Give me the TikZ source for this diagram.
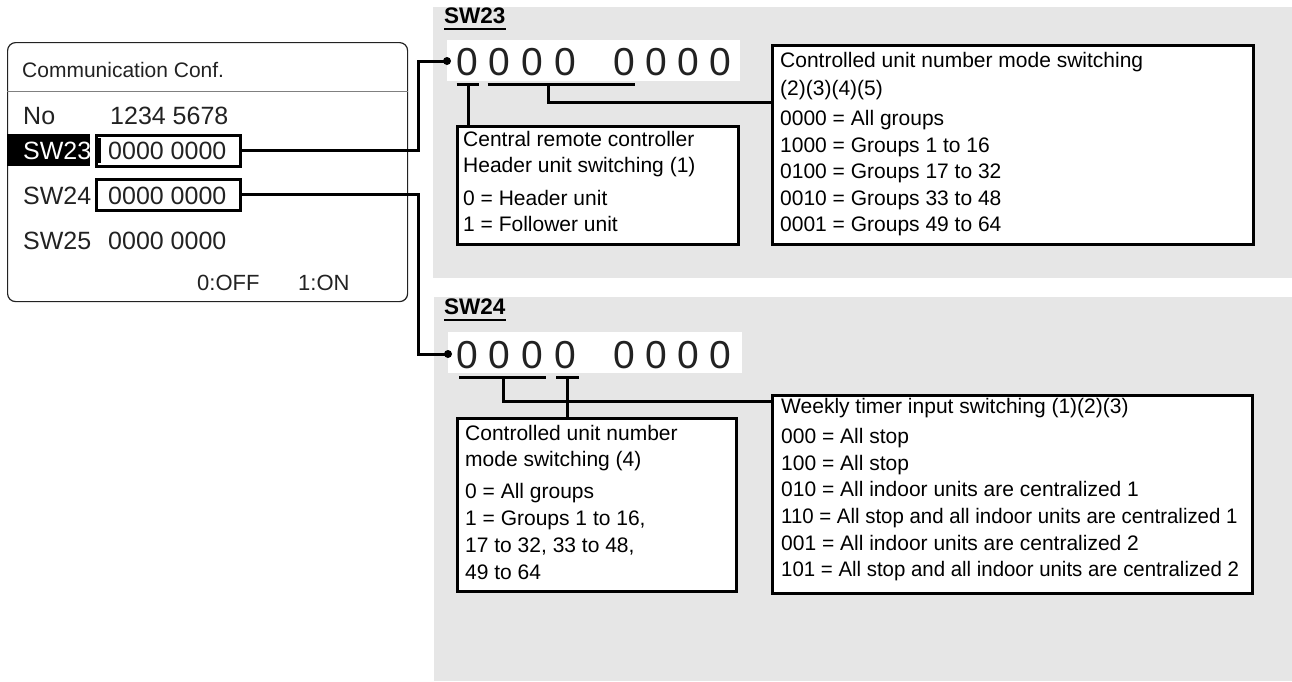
\documentclass[tikz,border=0pt]{standalone}
\usepackage{fontspec}
\setmainfont{Liberation Sans}
\usepackage{graphicx}
\usetikzlibrary{calc}
\definecolor{panelgrey}{RGB}{230,230,230}
\definecolor{inkgrey}{RGB}{34,34,34}
\tikzset{
  txt/.style={anchor=base west, inner sep=0pt, font=\fontsize{21}{25}\selectfont},
  ptxt/.style={anchor=base west, inner sep=0pt, font=\fontsize{25}{30}\selectfont, text=inkgrey},
  bigdigit/.style={anchor=base, inner sep=0pt, font=\fontsize{39}{44}\selectfont, text=inkgrey},
  infobox/.style={draw, line width=3pt, fill=white, inner sep=0pt, anchor=north west},
  valbox/.style={draw, line width=2.6pt, inner sep=0pt, anchor=north west, minimum width=144, minimum height=31},
  numbox/.style={fill=white, inner sep=0pt, anchor=north west},
  conn/.style={line width=3pt},
  uline/.style={line width=3pt},
  jdot/.style={circle, fill=black, inner sep=0pt, minimum size=8pt},
  swlabel/.style={anchor=base west, inner sep=0pt, font=\bfseries\fontsize{22.5}{26}\selectfont},
}
\begin{document}
\begin{tikzpicture}[x=1pt,y=-1pt]
\useasboundingbox (0,0) rectangle (1292,681);
% grey backgrounds
\fill[panelgrey] (433,7) rectangle (1292,278);
\fill[panelgrey] (434,297) rectangle (1292,681);

% ---------- left panel ----------
\node[draw=inkgrey, line width=1.2pt, rounded corners=8pt, minimum width=400, minimum height=259, anchor=north west, inner sep=0pt] (panel) at (7,42) {};
\draw[gray, line width=1pt] (panel.west |- 0,91.5) -- (panel.east |- 0,91.5);
\node[ptxt, font=\fontsize{21}{26}\selectfont] (hdr) at (22,77) {Communication Conf.};
\node[ptxt] (lno) at (23,124) {No};
\node[ptxt] (vno) at (110,124) {1234 5678};
\fill[black] (7,134) rectangle (90,166);
\node[ptxt, text=white] (l23) at (23,159) {SW23};
\fill[black] (98,138) rectangle (101,163);
\node[ptxt] (v23) at (108,159) {0000 0000};
\node[ptxt] (l24) at (23,204) {SW24};
\node[ptxt] (v24) at (108,204) {0000 0000};
\node[ptxt] (l25) at (23,249) {SW25};
\node[ptxt] (v25) at (108,249) {0000 0000};
\node[ptxt, font=\fontsize{22}{26}\selectfont] (off) at (197,290) {0:OFF};
\node[ptxt, font=\fontsize{22}{26}\selectfont] (on) at (298,290) {1:ON};
\node[valbox] (p23) at (95,134) {};
\node[valbox] (p24) at (95,178) {};

% ---------- SW23 ----------
\node[swlabel] (sw23) at (444,23) {SW23};
\draw[line width=2pt] ([yshift=-6pt]sw23.base west) -- ([yshift=-6pt]sw23.base east);
\node[numbox, minimum width=293, minimum height=41] (n23) at (447,40) {};
\foreach \x [count=\i] in {467,499.7,532.3,565,624,656,688,720}
  \node[bigdigit] (a\i) at (\x,75.5) {0};
\coordinate (ua1) at (456.5,84); \coordinate (ub1) at (478.5,84);
\coordinate (ua2) at (487.5,84); \coordinate (ub2) at (634.5,84);
\draw[uline] (ua1) -- (ub1);
\draw[uline] (ua2) -- (ub2);

\node[infobox, minimum width=281, minimum height=118] (b1) at (455.5,125) {};
\node[infobox, minimum width=481, minimum height=199] (b2) at (771,44) {};
\coordinate (ka) at (468,84);
\draw[conn] (ka) -- (ka |- b1.north);
\coordinate (kb) at (548,84); \coordinate (kbb) at (548,102);
\draw[conn] (kb) -- (kbb) -- (kbb -| b2.west);

\foreach \yy/\s [count=\i] in {146/Central remote controller, 172.5/Header unit switching (1), 205/0 = Header unit, 231.5/1 = Follower unit}
  \node[txt] (bA\i) at (463,\yy) {\s};
\foreach \yy/\s [count=\i] in {67.5/Controlled unit number mode switching, 95/(2)(3)(4)(5), 125.5/0000 = All groups, 152/1000 = Groups 1 to 16, 178.5/0100 = Groups 17 to 32, 205/0010 = Groups 33 to 48, 231.5/0001 = Groups 49 to 64}
  \node[txt] (bB\i) at (780,\yy) {\s};

% ---------- SW24 ----------
\node[swlabel] (sw24) at (444,314.5) {SW24};
\draw[line width=2pt] ([yshift=-5pt]sw24.base west) -- ([yshift=-5pt]sw24.base east);
\node[numbox, minimum width=294, minimum height=41] (n24) at (448,332) {};
\foreach \x [count=\i] in {467,499.7,532.3,565,624,656,688,720}
  \node[bigdigit] (c\i) at (\x,368) {0};
\coordinate (va1) at (459,377); \coordinate (vb1) at (546,377);
\coordinate (va2) at (556,377); \coordinate (vb2) at (579,377);
\draw[uline] (va1) -- (vb1);
\draw[uline] (va2) -- (vb2);

\node[infobox, minimum width=279, minimum height=173] (b3) at (456,417) {};
\node[infobox, minimum width=480, minimum height=198] (b4) at (771,394) {};
\coordinate (kc) at (503,377); \coordinate (kcc) at (503,401);
\draw[conn] (kc) -- (kcc) -- (kcc -| b4.west);
\coordinate (kd) at (567.5,377);
\draw[conn] (kd) -- (kd |- b3.north);

\foreach \yy/\s [count=\i] in {440/Controlled unit number, 466/mode switching (4), 498/0 = All groups, 525/{1 = Groups 1 to 16,}, 552/{17 to 32, 33 to 48,}, 579/49 to 64}
  \node[txt] (bC\i) at (465,\yy) {\s};
\foreach \yy/\s [count=\i] in {413.3/Weekly timer input switching (1)(2)(3), 443.3/000 = All stop, 470/100 = All stop, 496.7/010 = All indoor units are centralized 1, 523.3/{\scalebox{0.972}[1]{110 = All stop and all indoor units are centralized 1}}, 550/001 = All indoor units are centralized 2, 576.7/{\scalebox{0.972}[1]{101 = All stop and all indoor units are centralized 2}}}
  \node[txt] (bD\i) at (781,\yy) {\s};

% ---------- panel connectors ----------
\node[jdot] (dot23) at (447,61) {};
\coordinate (j23) at (418,61);
\draw[conn] (p23.east) -| (j23) -- (dot23.center);
\node[jdot] (dot24) at (448,354) {};
\coordinate (j24) at (418,354);
\draw[conn] (p24.east) -| (j24) -- (dot24.center);
\end{tikzpicture}
\end{document}
